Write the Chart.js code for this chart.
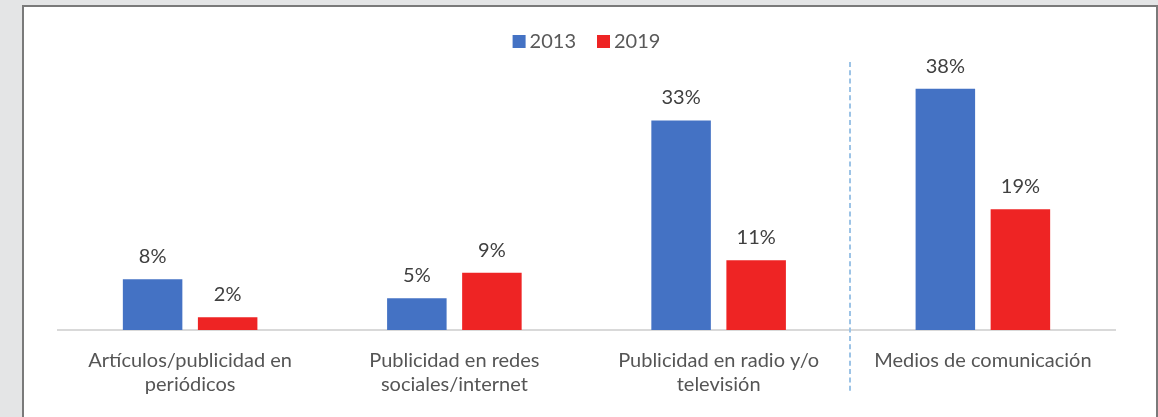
<!DOCTYPE html>
<html lang="es">
<head>
<meta charset="utf-8">
<script src="https://cdn.jsdelivr.net/npm/chart.js@4.4.1/dist/chart.umd.min.js"></script>
<style>
  html, body { margin: 0; padding: 0; background: #e4e5e6; width: 1158px; height: 417px; overflow: hidden; }
  #panel { position: absolute; left: 22px; top: 5px; width: 1132px; height: 430px; background: #ffffff; border: 2px solid #7a7a7a; }
  #wrap { position: absolute; left: 0; top: 0; width: 1158px; height: 417px; }
</style>
</head>
<body>
<div id="panel"></div>
<div id="wrap"><canvas id="chart"></canvas></div>
<script>
// Categorías y porcentajes por año
const categories = [
  ['Artículos/publicidad en', 'periódicos'],
  ['Publicidad en redes', 'sociales/internet'],
  ['Publicidad en radio y/o', 'televisión'],
  'Medios de comunicación'
];
const years = ['2013', '2019'];
const values2013 = [8, 5, 33, 38];
const values2019 = [2, 9, 11, 19];
const colors = ['#4472c4', '#ee2424'];

const FONT = 'Lato, "Open Sans", sans-serif';

// Etiquetas de valor sobre cada barra
const valueLabels = {
  id: 'valueLabels',
  afterDatasetsDraw(chart) {
    const ctx = chart.ctx;
    ctx.save();
    ctx.font = '20px ' + FONT;
    ctx.fillStyle = '#404040';
    ctx.textAlign = 'center';
    ctx.textBaseline = 'alphabetic';
    chart.data.datasets.forEach((ds, i) => {
      chart.getDatasetMeta(i).data.forEach((bar, j) => {
        ctx.fillText(ds.data[j] + '%', bar.x, bar.y - 16);
      });
    });
    ctx.restore();
  }
};

// Línea discontinua que separa el total de los medios individuales
const separator = {
  id: 'separator',
  afterDraw(chart) {
    const x = chart.scales.x;
    const px = (x.getPixelForValue(2) + x.getPixelForValue(3)) / 2;
    const ctx = chart.ctx;
    ctx.save();
    ctx.strokeStyle = '#9cc3e6';
    ctx.lineWidth = 2;
    ctx.setLineDash([5, 3.3]);
    ctx.beginPath();
    ctx.moveTo(Math.round(px) - 1, 62);
    ctx.lineTo(Math.round(px) - 1, 393);
    ctx.stroke();
    ctx.restore();
  }
};

// Leyenda compacta centrada arriba
const topLegend = {
  id: 'topLegend',
  afterDraw(chart) {
    const ctx = chart.ctx;
    ctx.save();
    ctx.font = '20px ' + FONT;
    ctx.textBaseline = 'middle';
    ctx.textAlign = 'left';
    const box = 13, gap = 4, itemGap = 21;
    const items = chart.data.datasets.map(ds => ({ text: ds.label, color: ds.backgroundColor, w: ctx.measureText(ds.label).width }));
    const total = items.reduce((s, it) => s + box + gap + it.w, 0) + itemGap * (items.length - 1);
    const area = chart.chartArea;
    let x = (area.left + area.right) / 2 - total / 2;
    const cy = 41.5;
    items.forEach(it => {
      ctx.fillStyle = it.color;
      ctx.fillRect(x, cy - box / 2, box, box);
      ctx.fillStyle = '#595959';
      ctx.fillText(it.text, x + box + gap, cy);
      x += box + gap + it.w + itemGap;
    });
    ctx.restore();
  }
};

new Chart(document.getElementById('chart'), {
  type: 'bar',
  data: {
    labels: categories,
    datasets: [
      { label: years[0], data: values2013, backgroundColor: colors[0] },
      { label: years[1], data: values2019, backgroundColor: colors[1] }
    ]
  },
  options: {
    responsive: true,
    maintainAspectRatio: false,
    animation: false,
    events: [],
    layout: { padding: { left: 58, right: 43, top: 76, bottom: 0 } },
    categoryPercentage: 0.568,
    barPercentage: 0.793,
    plugins: {
      legend: { display: false },
      tooltip: { enabled: false }
    },
    scales: {
      x: {
        afterFit(scale) { scale.height = 87; },
        grid: { display: false, drawTicks: false },
        border: { display: true, color: '#d9d9d9', width: 2 },
        ticks: {
          color: '#555555',
          padding: 19,
          maxRotation: 0,
          autoSkip: false,
          font: { family: FONT, size: 20, lineHeight: 1.2 }
        }
      },
      y: {
        display: false,
        min: 0,
        max: 40
      }
    }
  },
  plugins: [valueLabels, separator, topLegend]
});
</script>
</body>
</html>
